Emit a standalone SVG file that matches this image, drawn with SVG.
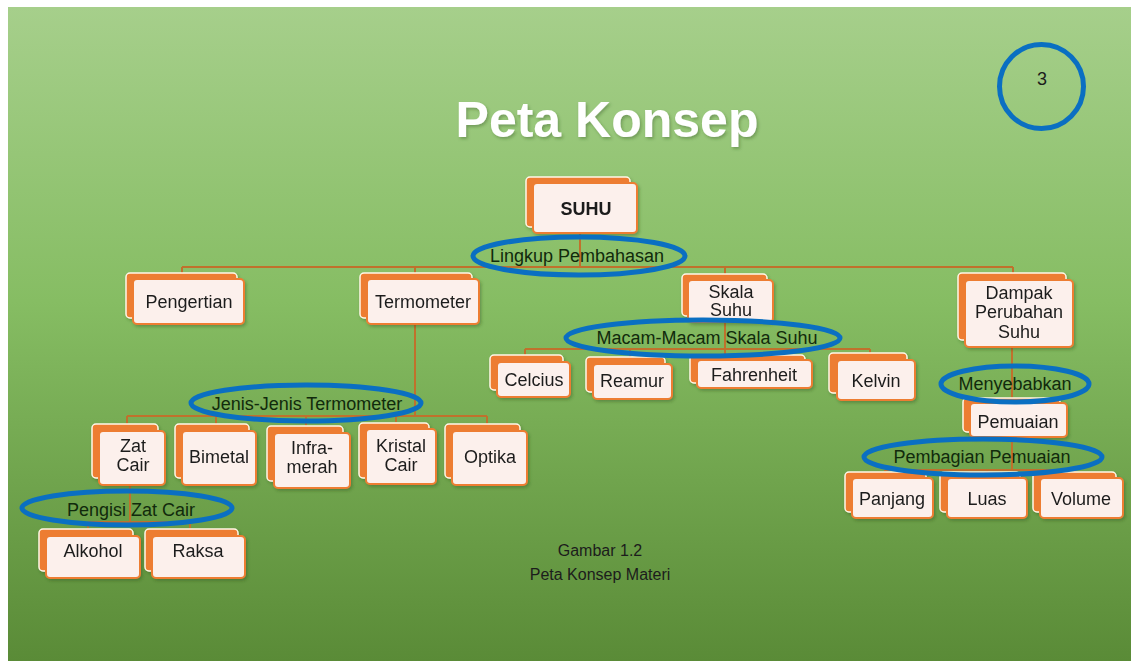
<svg xmlns="http://www.w3.org/2000/svg" width="1131" height="661" viewBox="0 0 1131 661">
<defs>
<linearGradient id="bg" x1="0" y1="0" x2="0" y2="1">
<stop offset="0" stop-color="#a6cf8b"/>
<stop offset="0.45" stop-color="#86bd63"/>
<stop offset="1" stop-color="#5a8b37"/>
</linearGradient>
<filter id="sh" x="-10%" y="-10%" width="130%" height="130%">
<feDropShadow dx="1.5" dy="2" stdDeviation="1.5" flood-color="#2d4a1a" flood-opacity="0.35"/>
</filter>
</defs>
<style>
.back{fill:#ed7d31;stroke:#fff8e8;stroke-width:1.5}
.front{fill:#fcf0ec;stroke:#ed7d31;stroke-width:2}
.t{font-family:"Liberation Sans",Arial,sans-serif;font-size:18px;fill:#1c1c1c;text-anchor:middle}
.lbl{font-family:"Liberation Sans",Arial,sans-serif;font-size:18px;fill:#112a0c;text-anchor:middle}
.ring{fill:none;stroke:#0a6fc2;stroke-width:5}
.ln{stroke:#c0712c;stroke-width:2;fill:none}
</style>
<rect x="0" y="0" width="1131" height="661" fill="#ffffff"/>
<rect x="8" y="7" width="1123" height="654" fill="url(#bg)"/>
<text x="607" y="137" font-family="Liberation Sans,Arial,sans-serif" font-size="50" font-weight="bold" fill="#ffffff" text-anchor="middle" filter="url(#sh)">Peta Konsep</text>
<g id="page-number">
<circle cx="1041.5" cy="86.5" r="42" class="ring"/>
<text x="1042" y="85" font-family="Liberation Sans,Arial,sans-serif" font-size="18" fill="#1c1c1c" text-anchor="middle">3</text>
</g>
<g id="connectors">
<path class="ln" d="M580 233V267M182 267H1013M182 267V274M415 267V274M725 267V275M1013 267V275"/>
<path class="ln" d="M415 324V416M127 416H487M127 416V424M216 416V424M306 416V426M396 416V422M487 416V424"/>
<path class="ln" d="M130 486V522M88 522H190M88 522V530M190 522V530"/>
<path class="ln" d="M725 322V349M525 349H870M525 349V356M630 349V358M725 349V355M870 349V354"/>
<path class="ln" d="M1012 347V470M885 470H1075M885 470V473M987 470V473M1075 470V473"/>
</g>
<g id="SUHU" filter="url(#sh)"><rect class="back" x="526" y="177" width="104" height="50" rx="4"/><rect class="front" x="533" y="183" width="104" height="50" rx="4"/><text class="t" x="586" y="215" font-weight="bold">SUHU</text></g>
<g id="Pengertian" filter="url(#sh)"><rect class="back" x="126" y="273" width="111" height="45" rx="4"/><rect class="front" x="133" y="279" width="111" height="45" rx="4"/><text class="t" x="189" y="308">Pengertian</text></g>
<g id="Termometer" filter="url(#sh)"><rect class="back" x="360" y="273" width="112" height="45" rx="4"/><rect class="front" x="367" y="279" width="112" height="45" rx="4"/><text class="t" x="423" y="308">Termometer</text></g>
<g id="SkalaSuhu" filter="url(#sh)"><rect class="back" x="682" y="274" width="85" height="42" rx="4"/><rect class="front" x="688" y="280" width="85" height="42" rx="4"/><text class="t" x="731" y="298">Skala</text><text class="t" x="731" y="316">Suhu</text></g>
<g id="Dampak" filter="url(#sh)"><rect class="back" x="958" y="273" width="108" height="67" rx="4"/><rect class="front" x="965" y="280" width="108" height="67" rx="4"/><text class="t" x="1019" y="299">Dampak</text><text class="t" x="1019" y="318">Perubahan</text><text class="t" x="1019" y="338">Suhu</text></g>
<g id="Celcius" filter="url(#sh)"><rect class="back" x="490" y="355" width="73" height="35" rx="4"/><rect class="front" x="497" y="362" width="73" height="35" rx="4"/><text class="t" x="534" y="386">Celcius</text></g>
<g id="Reamur" filter="url(#sh)"><rect class="back" x="586" y="357" width="79" height="35" rx="4"/><rect class="front" x="593" y="364" width="79" height="35" rx="4"/><text class="t" x="632" y="387">Reamur</text></g>
<g id="Fahrenheit" filter="url(#sh)"><rect class="back" x="690" y="355" width="115" height="28" rx="4"/><rect class="front" x="697" y="360" width="115" height="28" rx="4"/><text class="t" x="754" y="381">Fahrenheit</text></g>
<g id="Kelvin" filter="url(#sh)"><rect class="back" x="829" y="353" width="78" height="40" rx="4"/><rect class="front" x="837" y="360" width="78" height="40" rx="4"/><text class="t" x="876" y="387">Kelvin</text></g>
<g id="Pemuaian" filter="url(#sh)"><rect class="back" x="963" y="398" width="97" height="34" rx="4"/><rect class="front" x="970" y="403" width="97" height="34" rx="4"/><text class="t" x="1018" y="428">Pemuaian</text></g>
<g id="Panjang" filter="url(#sh)"><rect class="back" x="845" y="472" width="81" height="40" rx="4"/><rect class="front" x="852" y="478" width="81" height="40" rx="4"/><text class="t" x="892" y="505">Panjang</text></g>
<g id="Luas" filter="url(#sh)"><rect class="back" x="940" y="472" width="80" height="40" rx="4"/><rect class="front" x="947" y="478" width="80" height="40" rx="4"/><text class="t" x="987" y="505">Luas</text></g>
<g id="Volume" filter="url(#sh)"><rect class="back" x="1033" y="472" width="83" height="40" rx="4"/><rect class="front" x="1040" y="478" width="83" height="40" rx="4"/><text class="t" x="1081" y="505">Volume</text></g>
<g id="ZatCair" filter="url(#sh)"><rect class="back" x="92" y="424" width="66" height="54" rx="4"/><rect class="front" x="99" y="431" width="66" height="54" rx="4"/><text class="t" x="133" y="452">Zat</text><text class="t" x="133" y="471">Cair</text></g>
<g id="Bimetal" filter="url(#sh)"><rect class="back" x="175" y="424" width="74" height="54" rx="4"/><rect class="front" x="182" y="431" width="74" height="54" rx="4"/><text class="t" x="219" y="463">Bimetal</text></g>
<g id="Inframerah" filter="url(#sh)"><rect class="back" x="267" y="426" width="76" height="55" rx="4"/><rect class="front" x="274" y="433" width="76" height="55" rx="4"/><text class="t" x="312" y="454">Infra-</text><text class="t" x="312" y="473">merah</text></g>
<g id="KristalCair" filter="url(#sh)"><rect class="back" x="359" y="423" width="70" height="55" rx="4"/><rect class="front" x="366" y="429" width="70" height="55" rx="4"/><text class="t" x="401" y="452">Kristal</text><text class="t" x="401" y="471">Cair</text></g>
<g id="Optika" filter="url(#sh)"><rect class="back" x="445" y="424" width="75" height="54" rx="4"/><rect class="front" x="452" y="431" width="75" height="54" rx="4"/><text class="t" x="490" y="463">Optika</text></g>
<g id="Alkohol" filter="url(#sh)"><rect class="back" x="39" y="529" width="94" height="42" rx="4"/><rect class="front" x="46" y="536" width="94" height="42" rx="4"/><text class="t" x="93" y="557">Alkohol</text></g>
<g id="Raksa" filter="url(#sh)"><rect class="back" x="145" y="529" width="93" height="42" rx="4"/><rect class="front" x="152" y="536" width="93" height="42" rx="4"/><text class="t" x="198" y="557">Raksa</text></g>
<g id="labels">
<text class="lbl" x="577" y="262">Lingkup Pembahasan</text>
<text class="lbl" x="707" y="344">Macam-Macam Skala Suhu</text>
<text class="lbl" x="307" y="410">Jenis-Jenis Termometer</text>
<text class="lbl" x="131" y="516">Pengisi Zat Cair</text>
<text class="lbl" x="1015" y="390">Menyebabkan</text>
<text class="lbl" x="982" y="463">Pembagian Pemuaian</text>
</g>
<g id="highlights">
<ellipse class="ring" cx="579" cy="256" rx="106" ry="19"/>
<ellipse class="ring" cx="703" cy="338" rx="137" ry="18"/>
<ellipse class="ring" cx="306" cy="403" rx="115" ry="18"/>
<ellipse class="ring" cx="127" cy="508" rx="105" ry="17"/>
<ellipse class="ring" cx="1015" cy="384" rx="74" ry="18"/>
<ellipse class="ring" cx="983" cy="457" rx="119" ry="18"/>
</g>
<g id="caption">
<text x="600" y="556" font-family="Liberation Sans,Arial,sans-serif" font-size="16" fill="#1c1c1c" text-anchor="middle">Gambar 1.2</text>
<text x="600" y="580" font-family="Liberation Sans,Arial,sans-serif" font-size="16" fill="#1c1c1c" text-anchor="middle">Peta Konsep Materi</text>
</g>
</svg>
